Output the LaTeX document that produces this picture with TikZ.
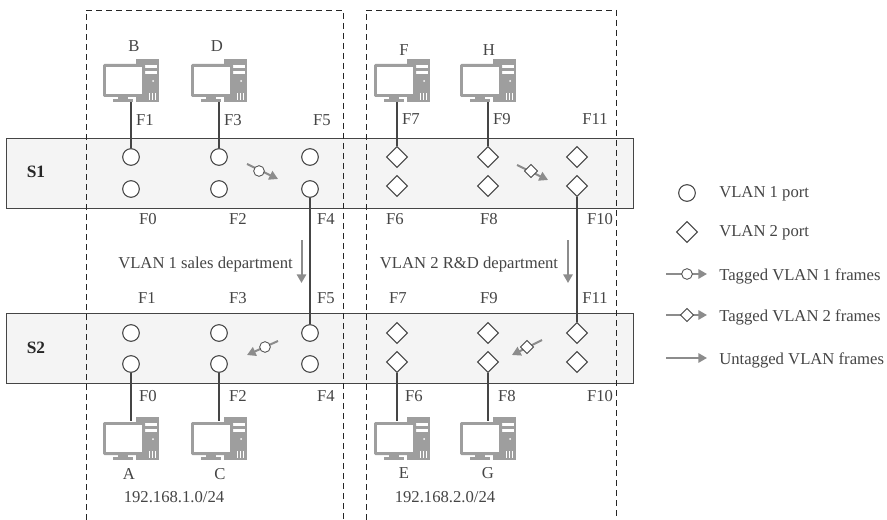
\documentclass[tikz,border=0pt]{standalone}
\usepackage{fontspec}
\setmainfont{Liberation Serif}
\usetikzlibrary{arrows.meta,shapes.geometric}
\definecolor{ink}{gray}{0.27}
\definecolor{pcgray}{gray}{0.62}
\definecolor{framegray}{gray}{0.55}
\definecolor{barfill}{gray}{0.955}
\tikzset{
 x=0.75pt,y=-0.75pt,
 lbl/.style={font=\fontsize{12.5}{14}\selectfont,text=ink,inner sep=0pt},
 slbl/.style={font=\fontsize{13}{15}\selectfont\bfseries,text=black!85,inner sep=0pt},
 cport/.style={circle,draw=ink,fill=white,line width=0.8pt,minimum size=12.5pt,inner sep=0pt},
 dport/.style={diamond,aspect=1,draw=ink,fill=white,line width=0.8pt,minimum size=16pt,inner sep=0pt},
 cframe/.style={circle,draw=ink,fill=white,line width=0.6pt,minimum size=8pt,inner sep=0pt},
 dframe/.style={diamond,aspect=1,draw=ink,fill=white,line width=0.6pt,minimum size=10pt,inner sep=0pt},
 link/.style={draw=ink,line width=1.1pt},
 bar/.style={draw=ink,fill=barfill,line width=0.7pt},
 vbox/.style={draw=black!85,line width=0.7pt,dash pattern=on 4.5pt off 3pt},
 flow/.style={draw=framegray,line width=1.5pt,-{Triangle[length=6.5pt,width=7pt]}},
 anchorpt/.style={inner sep=0pt,minimum size=0pt},
}
\newcommand{\pcicon}[3]{% x, y(bottom), node name
 \begin{scope}[shift={(#1,#2)}]
  \fill[pcgray] (5,-43) rectangle (28,0);
  \fill[white] (14,-37) rectangle (26,-34);
  \fill[white] (14,-31) rectangle (26,-28);
  \fill[white] (22,-21) circle (1);
  \fill[white] (18,-9) rectangle (19,-2);
  \fill[white] (21,-9) rectangle (22,-2);
  \fill[white] (24,-9) rectangle (25,-2);
  \fill[white] (2,-42) rectangle (5,0);
  \fill[pcgray] (5,-43) rectangle (28,-39);
  \fill[pcgray,rounded corners=1pt] (-28,-38) rectangle (14,-5);
  \fill[white] (-25,-35) rectangle (11,-8);
  \fill[pcgray] (-13,-5) rectangle (-3,-3);
  \fill[pcgray] (-18,-3) rectangle (2,0);
 \end{scope}
 \node[anchorpt] (#3) at (#1,#2) {};
}
\begin{document}
\begin{tikzpicture}
\useasboundingbox (0,0) rectangle (887,520);
\fill[white] (0,0) rectangle (887,520);
% bars
\path[bar] (6,138) rectangle (633,208);
\path[bar] (6,313) rectangle (633,383);
\node[slbl] at (36,172) {S1};
\node[slbl] at (36,348) {S2};
% dashed boxes
\draw[vbox] (86,520) -- (86,10) -- (343,10) -- (343,520);
\draw[vbox] (366,520) -- (366,10) -- (616,10) -- (616,520);
% PCs top
\pcicon{131}{102}{pcB}
\pcicon{219}{102}{pcD}
\pcicon{402}{102}{pcF}
\pcicon{488}{102}{pcH}
% PCs bottom
\pcicon{131}{460}{pcA}
\pcicon{219}{460}{pcC}
\pcicon{402}{460}{pcE}
\pcicon{488}{460}{pcG}
\coordinate (topA) at (131,421);
\coordinate (topC) at (219,421);
\coordinate (topE) at (397,421);
\coordinate (topG) at (488,421);
\coordinate (botF) at (397,102);
% ports S1
\node[cport] (a1) at (131,157) {};
\node[cport] (a0) at (131,189) {};
\node[cport] (a3) at (219,157) {};
\node[cport] (a2) at (219,189) {};
\node[cport] (a5) at (310,157) {};
\node[cport] (a4) at (310,189) {};
\node[dport] (a7) at (397,157) {};
\node[dport] (a6) at (397,186) {};
\node[dport] (a9) at (488,157) {};
\node[dport] (a8) at (488,186) {};
\node[dport] (a11) at (577,157) {};
\node[dport] (a10) at (577,186) {};
% ports S2
\node[cport] (b1) at (131,333) {};
\node[cport] (b0) at (131,364) {};
\node[cport] (b3) at (219,333) {};
\node[cport] (b2) at (219,364) {};
\node[cport] (b5) at (310,333) {};
\node[cport] (b4) at (310,364) {};
\node[dport] (b7) at (397,333) {};
\node[dport] (b6) at (397,362) {};
\node[dport] (b9) at (488,333) {};
\node[dport] (b8) at (488,362) {};
\node[dport] (b11) at (577,333) {};
\node[dport] (b10) at (577,362) {};
% links
\draw[link] (pcB) -- (a1);
\draw[link] (pcD) -- (a3);
\draw[link] (botF) -- (a7);
\draw[link] (pcH) -- (a9);
\draw[link] (a4) -- (b5);
\draw[link] (a10) -- (b11);
\draw[link] (b0) -- (topA);
\draw[link] (b2) -- (topC);
\draw[link] (b6) -- (topE);
\draw[link] (b8) -- (topG);
% frames
\coordinate (f1s) at (247,164); \coordinate (f1e) at (278,179);
\draw[flow] (f1s) -- (f1e); \node[cframe] at (259,171) {};
\coordinate (f2s) at (278,341); \coordinate (f2e) at (247,355);
\draw[flow] (f2s) -- (f2e); \node[cframe] at (265,347) {};
\coordinate (f3s) at (517,165); \coordinate (f3e) at (548,180);
\draw[flow] (f3s) -- (f3e); \node[dframe] at (531,171) {};
\coordinate (f4s) at (542,340); \coordinate (f4e) at (512,355);
\draw[flow] (f4s) -- (f4e); \node[dframe] at (527,347) {};
\coordinate (u1s) at (301.5,240); \coordinate (u1e) at (301.5,283);
\draw[flow] (u1s) -- (u1e);
\coordinate (u2s) at (568,240); \coordinate (u2e) at (568,283);
\draw[flow] (u2s) -- (u2e);
% names
\node[lbl] at (134,46) {B};
\node[lbl] at (217,46) {D};
\node[lbl] at (404,50) {F};
\node[lbl] at (489,50) {H};
\node[lbl] at (129,474) {A};
\node[lbl] at (220,474) {C};
\node[lbl] at (404,473) {E};
\node[lbl] at (488,473) {G};
\node[lbl] at (174,497) {192.168.1.0/24};
\node[lbl] at (445,497) {192.168.2.0/24};
% port labels
\foreach \x/\y/\t in {145/120/F1,233/120/F3,322/120/F5,411/119/F7,502/119/F9,595/119/F11,
 148/219/F0,238/219/F2,326/219/F4,395/219/F6,489/219/F8,600/219/F10,
 147/298/F1,238/298/F3,326/298/F5,398/298/F7,489/298/F9,595/298/F11,
 148/396/F0,238/396/F2,326/396/F4,414/396/F6,507/396/F8,600/396/F10}
 {\node[lbl] at (\x,\y) {\t};}
\node[lbl] at (205.5,264) {VLAN 1 sales department};
\node[lbl] at (469,264) {VLAN 2 R\&D department};
% legend
\node[cport] (lc) at (687,193) {};
\node[dport] (ld) at (687,232) {};
\coordinate (l1s) at (666,274); \coordinate (l1e) at (707,274);
\draw[flow] (l1s) -- (l1e); \node[cframe] at (687,274) {};
\coordinate (l2s) at (666,315); \coordinate (l2e) at (707,315);
\draw[flow] (l2s) -- (l2e); \node[dframe] at (687,315) {};
\coordinate (l3s) at (666,358); \coordinate (l3e) at (707,358);
\draw[flow] (l3s) -- (l3e);
\node[lbl,anchor=west] at (719,194) {VLAN 1 port};
\node[lbl,anchor=west] at (719,233) {VLAN 2 port};
\node[lbl,anchor=west] at (719,276) {Tagged VLAN 1 frames};
\node[lbl,anchor=west] at (719,317) {Tagged VLAN 2 frames};
\node[lbl,anchor=west] at (719,360) {Untagged VLAN frames};
\end{tikzpicture}
\end{document}
